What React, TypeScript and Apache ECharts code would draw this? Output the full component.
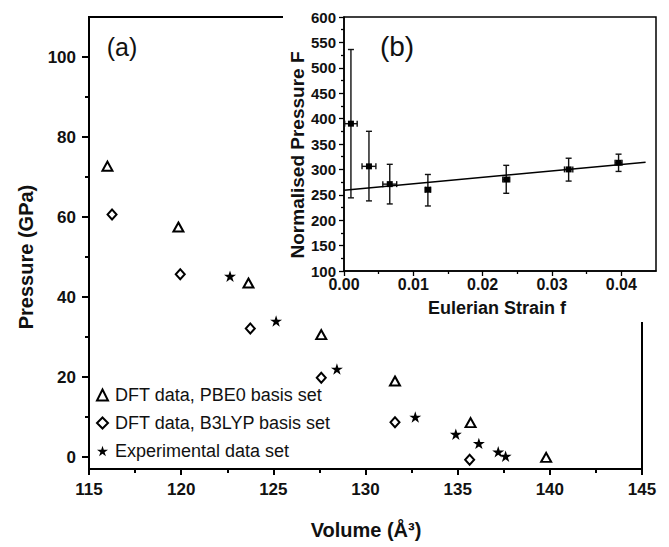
import React, { useEffect, useRef } from 'react';
import * as echarts from 'echarts';

// ---- Main panel (a): pressure vs volume ----
const pbe0Volume = [116.0, 119.85, 123.65, 127.6, 131.6, 135.7, 139.8];
const pbe0Pressure = [72.7, 57.5, 43.5, 30.6, 19.0, 8.6, -0.1];
const b3lypVolume = [116.25, 119.95, 123.75, 127.6, 131.6, 135.65];
const b3lypPressure = [60.6, 45.7, 32.1, 19.8, 8.7, -0.7];
const expVolume = [122.65, 125.15, 128.45, 132.7, 134.9, 136.15, 137.2, 137.6];
const expPressure = [45.2, 34.0, 22.0, 10.0, 5.7, 3.4, 1.3, 0.2];

const pressureTicks = [0, 20, 40, 60, 80, 100];
const pressureMinorTicks = [10, 30, 50, 70, 90];

// ---- Inset (b): normalised pressure vs Eulerian strain ----
const strainF = [0.001, 0.0036, 0.0066, 0.0121, 0.0234, 0.0324, 0.0396];
const normPressure = [390, 306, 271, 260, 280, 300, 313];
const strainErr = [0.0009, 0.001, 0.001, 0.0004, 0.0005, 0.0006, 0.0005];
const pressLow = [244, 238, 232, 228, 253, 277, 296];
const pressHigh = [536, 375, 310, 290, 308, 322, 330];
const fitStrain = [0, 0.0435];
const fitPressure = [259, 314];

const strainTicks = [0, 0.01, 0.02, 0.03, 0.04];
const strainMinorTicks = [0.005, 0.015, 0.025, 0.035];

const seriesNames = ['DFT data, PBE0 basis set', 'DFT data, B3LYP basis set', 'Experimental data set'];

const FONT = '"Liberation Sans", Arial, sans-serif';
const TXT = '#111';
const STAR =
  'path://M50,0 L61.2,34.5 L97.6,34.5 L68.2,55.9 L79.4,90.5 L50,69.1 L20.6,90.5 L31.8,55.9 L2.4,34.5 L38.8,34.5 Z';

function buildOption() {
  const zip = (a: number[], b: number[]) => a.map((v, i) => [v, b[i]]);
  const errData = strainF.map((f, i) => [
    f,
    normPressure[i],
    f - strainErr[i],
    f + strainErr[i],
    pressLow[i],
    pressHigh[i],
  ]);
  const tickStyle = { color: '#000', width: 2, opacity: 1 };
  const insetTick = { color: '#000', width: 1.3, opacity: 1 };
  return {
    animation: false,
    backgroundColor: '#fff',
    textStyle: { fontFamily: FONT },
    grid: [
      {
        left: 89, right: 27, top: 17, bottom: 78,
        show: true, borderColor: '#000', borderWidth: 2,
        backgroundColor: 'transparent', outerBoundsMode: 'none', z: 0,
      },
      {
        left: 344, right: 13, top: 17, bottom: 276,
        show: true, borderColor: '#000', borderWidth: 1.5,
        backgroundColor: 'transparent', outerBoundsMode: 'none', z: 6,
      },
    ],
    xAxis: [
      {
        gridIndex: 0, type: 'value', position: 'bottom', min: 115, max: 145, interval: 5,
        axisLine: { onZero: false, lineStyle: { color: '#000', width: 2, opacity: 1 } },
        axisTick: { length: 6, lineStyle: tickStyle },
        minorTick: { show: true, splitNumber: 2, length: 4, lineStyle: tickStyle },
        splitLine: { show: false },
        axisLabel: { fontSize: 17, fontWeight: 'bold', color: TXT, margin: 12, fontFamily: FONT },
      },
      {
        gridIndex: 1, type: 'value', position: 'bottom', min: 0, max: 0.045, z: 8,
        axisLine: { onZero: false, lineStyle: { color: '#000', width: 1.5, opacity: 1 } },
        axisTick: { customValues: strainTicks, length: 5, lineStyle: insetTick },
        splitLine: { show: false },
        axisLabel: {
          customValues: strainTicks,
          formatter: (v: number) => v.toFixed(2),
          fontSize: 16, fontWeight: 'bold', color: TXT, margin: 5, fontFamily: FONT,
        },
      },
      {
        gridIndex: 1, type: 'value', position: 'bottom', min: 0, max: 0.045, z: 8,
        axisLine: { show: false, onZero: false },
        axisTick: { customValues: strainMinorTicks, length: 3, lineStyle: insetTick },
        splitLine: { show: false },
        axisLabel: { show: false },
      },
    ],
    yAxis: [
      {
        gridIndex: 0, type: 'value', position: 'left', min: -3, max: 110,
        axisLine: { onZero: false, lineStyle: { color: '#000', width: 2, opacity: 1 } },
        axisTick: { customValues: pressureTicks, length: 7, lineStyle: tickStyle },
        splitLine: { show: false },
        axisLabel: {
          customValues: pressureTicks,
          fontSize: 17, fontWeight: 'bold', color: TXT, margin: 13, fontFamily: FONT,
        },
      },
      {
        gridIndex: 0, type: 'value', position: 'left', min: -3, max: 110,
        axisLine: { show: false, onZero: false },
        axisTick: { customValues: pressureMinorTicks, length: 4, lineStyle: tickStyle },
        splitLine: { show: false },
        axisLabel: { show: false },
      },
      {
        gridIndex: 1, type: 'value', position: 'left', min: 100, max: 600, interval: 50, z: 8,
        axisLine: { onZero: false, lineStyle: { color: '#000', width: 1.5, opacity: 1 } },
        axisTick: { length: 5, lineStyle: insetTick },
        minorTick: { show: true, splitNumber: 2, length: 3, lineStyle: insetTick },
        splitLine: { show: false },
        axisLabel: { fontSize: 15, fontWeight: 'bold', color: TXT, margin: 8, fontFamily: FONT },
      },
    ],
    legend: {
      orient: 'vertical', left: 96, top: 386, padding: 0,
      itemWidth: 11, itemHeight: 11, itemGap: 10,
      data: seriesNames,
      textStyle: { fontSize: 18, color: TXT, fontFamily: FONT, padding: [0, 0, 0, 2] },
    },
    series: [
      {
        name: seriesNames[0], type: 'scatter', xAxisIndex: 0, yAxisIndex: 0, z: 3,
        symbol: 'triangle', symbolSize: [10, 9],
        itemStyle: { color: '#fff', borderColor: '#000', borderWidth: 2, opacity: 1 },
        data: zip(pbe0Volume, pbe0Pressure),
      },
      {
        name: seriesNames[1], type: 'scatter', xAxisIndex: 0, yAxisIndex: 0, z: 3,
        symbol: 'diamond', symbolSize: [9, 10],
        itemStyle: { color: '#fff', borderColor: '#000', borderWidth: 2, opacity: 1 },
        data: zip(b3lypVolume, b3lypPressure),
      },
      {
        name: seriesNames[2], type: 'scatter', xAxisIndex: 0, yAxisIndex: 0, z: 3,
        symbol: STAR, symbolKeepAspect: true, symbolSize: 12,
        itemStyle: { color: '#000', opacity: 1 },
        data: zip(expVolume, expPressure),
      },
      {
        name: 'fit', type: 'line', xAxisIndex: 1, yAxisIndex: 2, z: 9,
        showSymbol: false, symbol: 'none',
        lineStyle: { color: '#000', width: 1.5 },
        data: zip(fitStrain, fitPressure),
      },
      {
        name: 'errors', type: 'custom', xAxisIndex: 1, yAxisIndex: 2, z: 9,
        encode: { x: 0, y: 1 },
        data: errData,
        renderItem: (params: any, api: any) => {
          const x = api.value(0), y = api.value(1);
          const xl = api.value(2), xh = api.value(3);
          const yl = api.value(4), yh = api.value(5);
          const lo = api.coord([x, yl]);
          const hi = api.coord([x, yh]);
          const le = api.coord([xl, y]);
          const ri = api.coord([xh, y]);
          const c = 3;
          const style = { stroke: '#111', lineWidth: 1.4, fill: null };
          const ln = (x1: number, y1: number, x2: number, y2: number) => ({
            type: 'line', shape: { x1, y1, x2, y2 }, style,
          });
          return {
            type: 'group',
            children: [
              ln(lo[0], lo[1], hi[0], hi[1]),
              ln(lo[0] - c, lo[1], lo[0] + c, lo[1]),
              ln(hi[0] - c, hi[1], hi[0] + c, hi[1]),
              ln(le[0], le[1], ri[0], ri[1]),
              ln(le[0], le[1] - c, le[0], le[1] + c),
              ln(ri[0], ri[1] - c, ri[0], ri[1] + c),
            ],
          };
        },
      },
      {
        name: 'points', type: 'scatter', xAxisIndex: 1, yAxisIndex: 2, z: 10,
        symbol: 'rect', symbolSize: 6,
        itemStyle: { color: '#000', opacity: 1 },
        data: zip(strainF, normPressure),
      },
    ],
    graphic: [
      { type: 'rect', z: 5, shape: { x: 283, y: 0, width: 386, height: 322 }, style: { fill: '#fff' } },
      {
        type: 'text', z: 20, x: 122, y: 47,
        style: { text: '(a)', fontSize: 25, fontFamily: FONT, fill: TXT, align: 'center', verticalAlign: 'middle' },
      },
      {
        type: 'text', z: 20, x: 397, y: 46,
        style: { text: '(b)', fontSize: 28, fontFamily: FONT, fill: TXT, align: 'center', verticalAlign: 'middle' },
      },
      {
        type: 'text', z: 20, x: 26, y: 257, rotation: Math.PI / 2,
        style: { text: 'Pressure (GPa)', fontSize: 20, fontWeight: 'bold', fontFamily: FONT, fill: TXT, align: 'center', verticalAlign: 'middle' },
      },
      {
        type: 'text', z: 20, x: 366, y: 530,
        style: { text: 'Volume (Å³)', fontSize: 20, fontWeight: 'bold', fontFamily: FONT, fill: TXT, align: 'center', verticalAlign: 'middle' },
      },
      {
        type: 'text', z: 20, x: 297, y: 155, rotation: Math.PI / 2,
        style: { text: 'Normalised Pressure F', fontSize: 19, fontWeight: 'bold', fontFamily: FONT, fill: TXT, align: 'center', verticalAlign: 'middle' },
      },
      {
        type: 'text', z: 20, x: 497, y: 308,
        style: { text: 'Eulerian Strain f', fontSize: 18, fontWeight: 'bold', fontFamily: FONT, fill: TXT, align: 'center', verticalAlign: 'middle' },
      },
    ],
  };
}

export default function App() {
  const ref = useRef<HTMLDivElement>(null);
  useEffect(() => {
    document.body.style.margin = '0';
    const chart = echarts.init(ref.current as HTMLDivElement, null, { renderer: 'svg' });
    chart.setOption(buildOption() as any);
    return () => chart.dispose();
  }, []);
  return (
    <div
      ref={ref}
      style={{ position: 'fixed', left: 0, top: 0, width: 669, height: 547, background: '#fff' }}
    />
  );
}
